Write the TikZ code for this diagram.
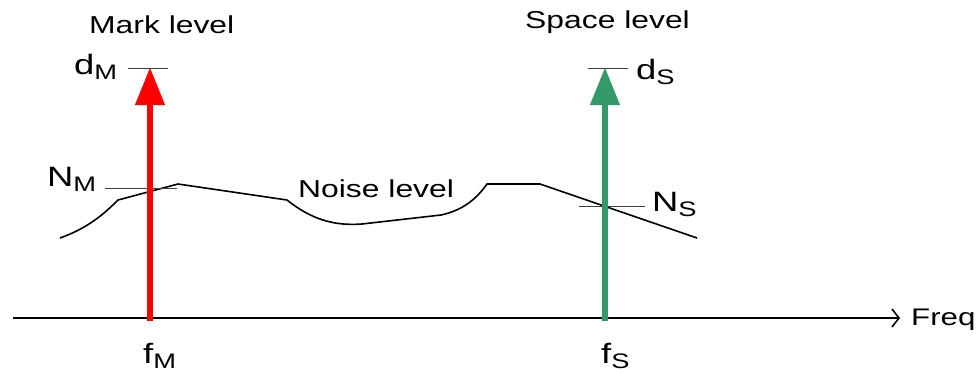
\documentclass[tikz,border=0pt]{standalone}
\usepackage{fontspec}
\setmainfont{Liberation Sans}[FakeStretch=1.3]
\usetikzlibrary{arrows.meta}
\definecolor{spacegreen}{RGB}{52,153,104}
\newcommand{\lblsub}[2]{{\fontsize{28}{30}\selectfont #1}\raisebox{-5pt}{\fontsize{21}{22}\selectfont #2}}
\begin{document}
\begin{tikzpicture}[x=1pt,y=-1pt,
  txt/.style={font=\fontsize{24.5}{28}\selectfont, inner sep=0pt, anchor=base west},
  sig/.style={line width=6pt, -{Triangle[width=30pt,length=37pt,line width=0.5pt]}},
  tickline/.style={line width=0.7pt, draw=black!75},
  noise/.style={line width=1.6pt, line join=round},
  axis/.style={line width=1.8pt, -{Straight Barb[length=7pt,width=18pt,line width=1.6pt]}}]
\useasboundingbox (0,0) rectangle (978,373);

% axis
\coordinate (ax0) at (13,318);
\coordinate (ax1) at (900,318);
\draw[axis] (ax0) -- (ax1);
\node[txt, font=\fontsize{24}{26}\selectfont] (freq) at (911,325) {Freq};

% noise curve
\draw[noise] (60,238) .. controls (88,228) and (104,214) .. (118,200)
  -- (178,184) -- (287,200)
  .. controls (312,220) and (335,226) .. (362,224)
  -- (441,215)
  .. controls (464,210) and (477,198) .. (487,184)
  -- (540,184) -- (697,238);
\node[txt] (noise) at (298,197) {Noise level};

% ticks
\coordinate (dMl) at (128,68);  \coordinate (dMr) at (168,68);
\coordinate (dSl) at (588,68);  \coordinate (dSr) at (628,68);
\coordinate (NMl) at (105,188); \coordinate (NMr) at (177,188);
\coordinate (NSl) at (579,206); \coordinate (NSr) at (645,206);
\draw[tickline] (dMl) -- (dMr);
\draw[tickline] (dSl) -- (dSr);
\draw[tickline] (NMl) -- (NMr);
\draw[tickline] (NSl) -- (NSr);

% signal arrows
\coordinate (fMb) at (150,321); \coordinate (fMt) at (150,68);
\coordinate (fSb) at (605,321); \coordinate (fSt) at (605,68);
\draw[sig, red] (fMb) -- (fMt);
\draw[sig, spacegreen] (fSb) -- (fSt);

% labels
\node[txt] (mark) at (89,33) {Mark level};
\node[txt] (space) at (525,28) {Space level};
\node[txt] (dM) at (74,74) {\lblsub{d}{M}};
\node[txt] (dS) at (636,79) {\lblsub{d}{S}};
\node[txt] (NM) at (47,186) {\lblsub{N}{M}};
\node[txt] (NS) at (652,211) {\lblsub{N}{S}};
\node[txt] (fM) at (143,363) {\lblsub{f}{M}};
\node[txt] (fS) at (601,363) {\lblsub{f}{S}};
\end{tikzpicture}
\end{document}
